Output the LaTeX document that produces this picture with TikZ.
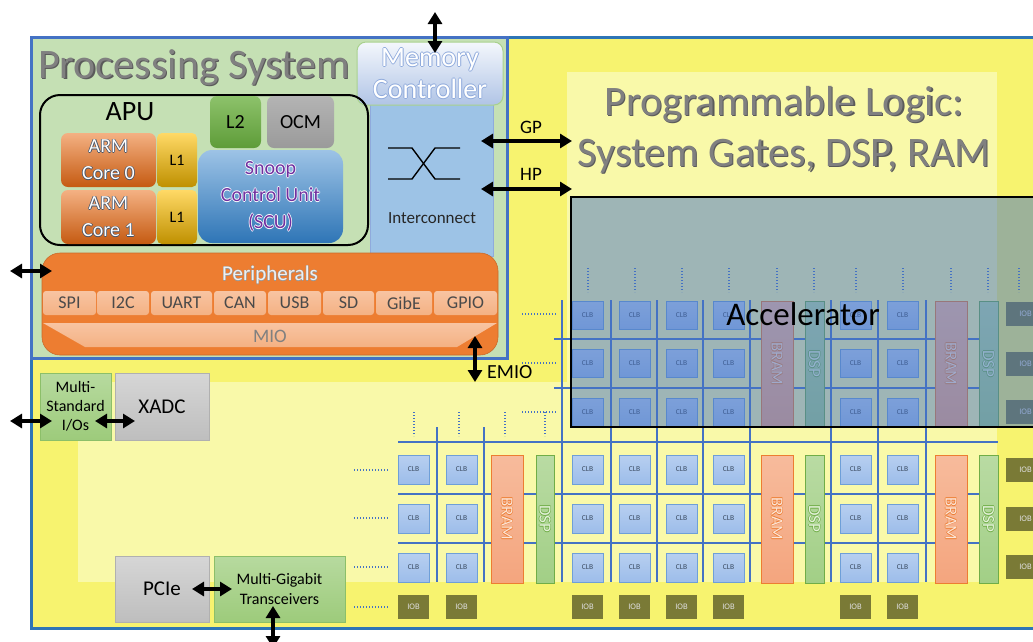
\documentclass[tikz,border=0pt]{standalone}
\usepackage{fontspec}
\setmainfont{Carlito}
\usepackage{graphicx}
\usetikzlibrary{arrows.meta}

% palette
\definecolor{plyellow}{HTML}{F7F36F}
\definecolor{pllight}{HTML}{F9F9A9}
\definecolor{psgreen}{HTML}{C5E0B4}
\definecolor{psblue}{HTML}{4472C4}
\definecolor{edgeblue}{HTML}{2E75B6}
\definecolor{icblue}{HTML}{9DC3E6}
\definecolor{icedge}{HTML}{8FAADC}
\definecolor{perorange}{HTML}{ED7D31}
\definecolor{pertop}{HTML}{F8C4A2}
\definecolor{perbot}{HTML}{F4B183}
\definecolor{pertext}{HTML}{4A4A4A}
\definecolor{titlegray}{HTML}{808080}
\definecolor{titleshadow}{HTML}{5A5A5A}
\definecolor{clbtop}{HTML}{B7CFF0}
\definecolor{clbbot}{HTML}{9DBDEA}
\definecolor{clbedge}{HTML}{6E9FD8}
\definecolor{clbtext}{HTML}{3A4A60}
\definecolor{iobfill}{HTML}{7A7A36}
\definecolor{iobtext}{HTML}{DDDDDD}
\definecolor{bramtop}{HTML}{F7BB9C}
\definecolor{brambot}{HTML}{F4A57E}
\definecolor{bramedge}{HTML}{ED7D31}
\definecolor{bramtext}{HTML}{FCE4D6}
\definecolor{dsptop}{HTML}{B9DBA3}
\definecolor{dspbot}{HTML}{A2CF86}
\definecolor{dspedge}{HTML}{70AD47}
\definecolor{dsptext}{HTML}{E4F2DA}
\definecolor{gridblue}{HTML}{4472C4}
\definecolor{scupurple}{HTML}{7030A0}
\definecolor{armtop}{HTML}{F4B183}
\definecolor{armbot}{HTML}{C55A11}
\definecolor{armline}{HTML}{44546A}
\definecolor{l1top}{HTML}{FFD966}
\definecolor{l1bot}{HTML}{BF9000}
\definecolor{l2top}{HTML}{8DC26B}
\definecolor{l2bot}{HTML}{5E9C38}
\definecolor{ocmtop}{HTML}{B4B4B4}
\definecolor{ocmbot}{HTML}{9A9A9A}
\definecolor{scutop}{HTML}{9DC3E6}
\definecolor{scubot}{HTML}{2E75B6}
\definecolor{mctop}{HTML}{F4F7FC}
\definecolor{mcbot}{HTML}{B0C4E6}
\definecolor{mcedge}{HTML}{A9D18E}
\definecolor{grntop}{HTML}{B7DA9F}
\definecolor{grnbot}{HTML}{9DCB7B}
\definecolor{grnedge}{HTML}{8CBF69}
\definecolor{grytop}{HTML}{D6D6D6}
\definecolor{grybot}{HTML}{BEBEBE}
\definecolor{gryedge}{HTML}{B0B0B0}

% outlined text: [thickness]{outline}{fill}{text}
\newcommand\olt[4][0.8pt]{\leavevmode
  \rlap{\color{#2}\kern#1#4}\rlap{\color{#2}\kern-#1#4}%
  \rlap{\color{#2}\raisebox{#1}{#4}}\rlap{\color{#2}\raisebox{-#1}{#4}}%
  {\color{#3}#4}}
% text with a soft drop shadow: [offset]{shadow}{fill}{text}
\newcommand\shd[4][1.2pt]{\leavevmode
  \rlap{\color{#2}\kern#1\raisebox{-#1}{#4}}{\color{#3}#4}}
% block from its top-left to bottom-right corner
\newcommand\blk[7][]{\node[blkbase,#1,minimum width={(#5-#3)*1pt},
  minimum height={(#6-#4)*1pt}] (#2) at (#3,#4) {#7};}

\begin{document}
\begin{tikzpicture}[x=1pt,y=-1pt,
  blkbase/.style={anchor=north west,inner sep=0pt,outer sep=0pt,align=center},
  clb/.style={top color=clbtop,bottom color=clbbot,draw=clbedge,line width=0.8pt,
    font=\fontsize{7.5}{8}\selectfont,text=clbtext},
  iob/.style={fill=iobfill,font=\fontsize{8.5}{9}\selectfont,text=iobtext},
  bram/.style={top color=bramtop,bottom color=brambot,draw=bramedge,line width=1pt,
    font=\fontsize{17}{18}\selectfont},
  dsp/.style={top color=dsptop,bottom color=dspbot,draw=dspedge,line width=1pt,
    font=\fontsize{17}{18}\selectfont},
  gridln/.style={draw=gridblue,line width=1.6pt},
  dots/.style={draw=gridblue,line width=1.3pt,dash pattern=on 1.3pt off 1.7pt},
  dbl/.style={{Triangle[length=12pt,width=14pt]}-{Triangle[length=12pt,width=14pt]},
    line width=3.4pt,draw=black},
  lbl/.style={inner sep=0pt,text=black},
  perbox/.style={top color=pertop,bottom color=perbot,rounded corners=3pt,
    font=\fontsize{18}{20}\selectfont,text=pertext},
  grnbox/.style={top color=grntop,bottom color=grnbot,draw=grnedge,line width=0.8pt},
  grybox/.style={top color=grytop,bottom color=grybot,draw=gryedge,line width=0.8pt},
]
\fill[white] (0,0) rectangle (1033,641);
\useasboundingbox (0,0) rectangle (1033,641);

% programmable logic fabric
\fill[plyellow] (31,37) rectangle (1040,628);
\draw[edgeblue,line width=3pt] (1040,37) -- (31,37) -- (31,628) -- (1040,628);
\fill[pllight] (567,72) rectangle (997,582);
\fill[pllight] (78,382) rectangle (997,582);

% routing channels
\foreach \x in {437,484} \draw[gridln] (\x,427) -- (\x,582);
\foreach \x in {562,611,657,703,750,831,878,926} \draw[gridln] (\x,300) -- (\x,582);
\foreach \y in {339,388} \draw[gridln] (554,\y) -- (998,\y);
\foreach \y in {442,494,543} \draw[gridln] (398,\y) -- (998,\y);

% logic blocks, lower array
\foreach \x in {398,446,572,619,666,713,840,887}{
  \foreach \y in {455,504,553}{\blk[clb]{clbL-\x-\y}{\x}{\y}{\x+31}{\y+29}{CLB}}
  \blk[iob]{iobB-\x}{\x}{595}{\x+31}{619}{IOB}
}
% logic blocks, upper array
\foreach \x in {572,619,666,713,840,887}{
  \foreach \y in {301,349,398}{\blk[clb]{clbU-\x-\y}{\x}{\y}{\x+31}{\y+28}{CLB}}
}
% right-hand I/O blocks
\foreach \y in {302,352,400,458,507,555}{\blk[iob]{iobR-\y}{1006}{\y}{1045}{\y+24}{IOB}}

% block RAM and DSP columns
\foreach \x in {491,761,935}{
  \blk[bram]{bramL-\x}{\x}{455}{\x+32}{583}{\rotatebox{-90}{\olt[0.6pt]{bramedge}{bramtext}{BRAM}}}}
\foreach \x in {761,935}{
  \blk[bram]{bramU-\x}{\x}{301}{\x+32}{427}{\rotatebox{-90}{\olt[0.6pt]{bramedge}{bramtext}{BRAM}}}}
\foreach \x/\w in {536/18,805/19,979/19}{
  \blk[dsp]{dspL-\x}{\x}{455}{\x+\w}{583}{\rotatebox{-90}{\olt[0.6pt]{dspedge}{dsptext}{DSP}}}}
\foreach \x/\w in {805/19,979/19}{
  \blk[dsp]{dspU-\x}{\x}{301}{\x+\w}{427}{\rotatebox{-90}{\olt[0.6pt]{dspedge}{dsptext}{DSP}}}}

% continuation marks
\foreach \y in {314,363,412} \draw[dots] (522,\y) -- (556,\y);
\foreach \x in {588,635,682,729,777,814,856,903,951,988,1019} \draw[dots] (\x,268) -- (\x,292);
\foreach \y in {470,518,567,607} \draw[dots] (354,\y) -- (388,\y);
\foreach \x in {414,459,505,545} \draw[dots] (\x,412) -- (\x,436);

% accelerator region
\blk[fill=psblue,fill opacity=0.5,draw=black,draw opacity=1,line width=2.5pt]{acc}{571}{197}{1045}{427}{}
\node[lbl,font=\fontsize{33}{36}\selectfont] (acctext) at (803,314) {Accelerator};

% fabric title
\node[align=center,inner sep=0pt,font=\fontsize{42}{51}\selectfont] (pltitle) at (784,130)
  {\shd{titleshadow}{titlegray}{Programmable Logic:}\\\shd{titleshadow}{titlegray}{System Gates, DSP, RAM}};

% processing system
\blk[fill=psgreen,draw=psblue,line width=3pt]{ps}{31}{37}{507}{358}{}
\node[anchor=base,inner sep=0pt,font=\fontsize{42}{46}\selectfont] (pstitle) at (194,78)
  {\shd{titleshadow}{titlegray}{Processing System}};

\blk[fill=icblue,draw=icedge,line width=0.8pt]{ic}{370}{100}{493}{256}{}
\draw[black,line width=1.4pt] (388,148) -- (412,148) -- (435,179) -- (460,179);
\draw[black,line width=1.4pt] (388,179) -- (412,179) -- (435,148) -- (460,148);
\node[lbl,font=\fontsize{17}{19}\selectfont,text=black!85] (ictext) at (432,218) {Interconnect};

\blk[top color=mctop,bottom color=mcbot,draw=mcedge,line width=1pt,rounded corners=9pt,
  font=\fontsize{28}{32}\selectfont]{mc}{357}{42}{503}{105}
  {\olt[0.9pt]{icedge}{white}{Memory}\\\olt[0.9pt]{icedge}{white}{Controller}}

\blk[draw=black,line width=2pt,rounded corners=20pt]{apu}{40}{95}{368}{245}{}
\node[anchor=base,inner sep=0pt,font=\fontsize{28}{30}\selectfont] (aputext) at (130,120) {APU};

\blk[top color=armtop,bottom color=armbot,rounded corners=7pt,font=\fontsize{20}{27}\selectfont]
  {core0}{61}{133}{156}{187}{\olt[0.8pt]{armline}{white}{ARM}\\\olt[0.8pt]{armline}{white}{Core 0}}
\blk[top color=armtop,bottom color=armbot,rounded corners=7pt,font=\fontsize{20}{27}\selectfont]
  {core1}{61}{190}{156}{244}{\olt[0.8pt]{armline}{white}{ARM}\\\olt[0.8pt]{armline}{white}{Core 1}}
\blk[top color=l1top,bottom color=l1bot,rounded corners=5pt,font=\fontsize{16}{17}\selectfont]
  {l1a}{157}{133}{197}{187}{L1}
\blk[top color=l1top,bottom color=l1bot,rounded corners=5pt,font=\fontsize{16}{17}\selectfont]
  {l1b}{157}{190}{197}{244}{L1}
\blk[top color=l2top,bottom color=l2bot,rounded corners=7pt,font=\fontsize{20}{21}\selectfont]
  {l2}{210}{96}{261}{148}{L2}
\blk[top color=ocmtop,bottom color=ocmbot,rounded corners=7pt,font=\fontsize{20}{21}\selectfont]
  {ocm}{267}{96}{334}{148}{OCM}
\blk[top color=scutop,bottom color=scubot,rounded corners=14pt,font=\fontsize{20}{27}\selectfont]
  {scu}{198}{150}{343}{243}
  {\olt[0.8pt]{white}{scupurple}{Snoop}\\\olt[0.8pt]{white}{scupurple}{Control Unit}\\\olt[0.8pt]{white}{scupurple}{(SCU)}}

% peripherals and multiplexed I/O
\blk[fill=perorange,draw=perorange!85!black,line width=0.6pt,rounded corners=18pt]{per}{42}{253}{498}{355}{}
\node[lbl,font=\fontsize{21}{23}\selectfont] (pertitle) at (270,275)
  {\olt[0.5pt]{black!40}{black!6}{Peripherals}};
\blk[perbox]{spi}{43}{291}{96}{315}{SPI}
\blk[perbox]{itc}{97}{291}{149}{315}{I2C}
\blk[perbox]{uart}{151}{291}{212}{315}{UART}
\blk[perbox]{can}{214}{291}{266}{315}{CAN}
\blk[perbox]{usb}{268}{291}{321}{315}{USB}
\blk[perbox]{sd}{323}{291}{374}{315}{SD}
\blk[perbox]{gibe}{376}{291}{432}{315}{GibE}
\blk[perbox]{gpio}{434}{291}{497}{315}{GPIO}
\shade[top color=pertop,bottom color=perbot] (43,323) -- (497,323) -- (457,347) -- (85,347) -- cycle;
\node[lbl,font=\fontsize{19}{21}\selectfont,text=black!50] (mio) at (270,336) {MIO};

% fabric-side hard blocks
\blk[grnbox,font=\fontsize{16}{19}\selectfont]{msio}{40}{373}{111}{440}{Multi-\\Standard\\I/Os}
\blk[grybox,font=\fontsize{21}{23}\selectfont]{xadc}{115}{373}{209}{440}{XADC}
\blk[grybox,font=\fontsize{21}{23}\selectfont]{pcie}{115}{556}{209}{622}{PCIe}
\blk[grnbox,font=\fontsize{16}{20}\selectfont]{mgt}{214}{556}{345}{622}{Multi-Gigabit\\Transceivers}

% interface arrows
\coordinate (memext) at (435,12);
\coordinate (memin) at (435,53);
\draw[dbl] (memext) -- (memin);

\coordinate (gpa) at (481,141);
\coordinate (gpb) at (572,141);
\draw[dbl] (gpa) -- (gpb);
\node[lbl,font=\fontsize{19}{21}\selectfont] (gplbl) at (531,127) {GP};
\coordinate (hpa) at (481,189);
\coordinate (hpb) at (572,189);
\draw[dbl] (hpa) -- (hpb);
\node[lbl,font=\fontsize{19}{21}\selectfont] (hplbl) at (531,174) {HP};

\coordinate (perext) at (10,271);
\coordinate (perin) at (52,271);
\draw[dbl] (perext) -- (perin);

\coordinate (emioa) at (475,336);
\coordinate (emiob) at (475,382);
\draw[dbl] (emioa) -- (emiob);
\node[lbl,anchor=west,font=\fontsize{20}{22}\selectfont] (emiolbl) at (487,372) {EMIO};

\coordinate (msioext) at (10,421);
\coordinate (msioin) at (52,421);
\draw[dbl] (msioext) -- (msioin);
\coordinate (msiox) at (95,421);
\coordinate (xadcin) at (135,421);
\draw[dbl] (msiox) -- (xadcin);

\coordinate (pciex) at (192,589);
\coordinate (mgtin) at (232,589);
\draw[dbl] (pciex) -- (mgtin);
\coordinate (mgtbot) at (273,606);
\coordinate (mgtext) at (273,648);
\draw[dbl] (mgtbot) -- (mgtext);
\end{tikzpicture}
\end{document}
